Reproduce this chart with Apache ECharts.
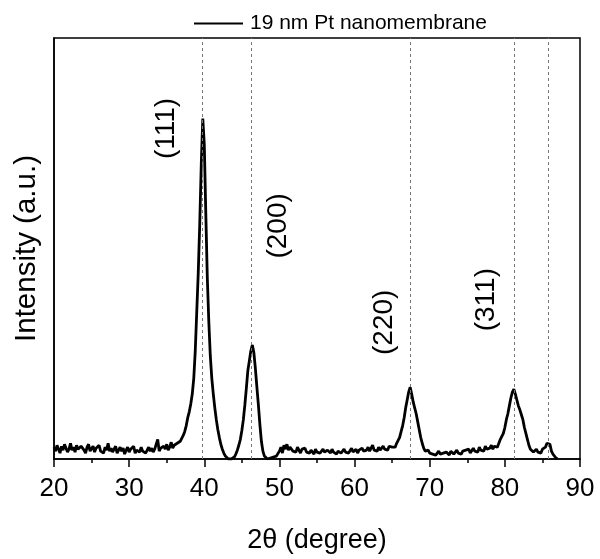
<!DOCTYPE html>
<html>
<head>
<meta charset="utf-8">
<script src="https://cdn.jsdelivr.net/npm/echarts@6/dist/echarts.min.js"></script>
<style>
html,body{margin:0;padding:0;background:#fff;}
#chart{width:600px;height:559px;}
</style>
</head>
<body>
<div id="chart"></div>
<script>
// Measurement grid (2θ, degrees)
const twoThetaStart = 20.0;
const twoThetaStep = 0.2;
// Intensity (a.u.), one value per 0.2° from 20.0 to 87.0
const intensity = [
  12, 8, 14, 10, 6, 13, 9, 15, 11, 7,
  10, 16, 9, 12, 7, 14, 10, 8, 13, 11,
  9, 6, 12, 15, 8, 10, 13, 7, 11, 9,
  14, 8, 10, 6, 12, 9, 16, 8, 11, 7,
  10, 13, 6, 9, 12, 8, 11, 5, 9, 12,
  7, 10, 8, 13, 6, 9, 11, 7, 12, 8,
  10, 6, 9, 12, 8, 11, 7, 10, 9, 20,
  8, 11, 9, 13, 10, 15, 9, 12, 17, 11,
  14, 12, 16, 15, 18, 20, 24, 28, 34, 42,
  48, 56, 66, 82, 110, 150, 190, 240, 300, 346,
  320, 250, 185, 140, 105, 82, 66, 52, 40, 30,
  22, 15, 10, 6, 3, 1, 0, 0, 0, 1,
  2, 5, 9, 14, 20, 29, 40, 55, 72, 90,
  100, 110, 116, 108, 92, 73, 55, 35, 18, 8,
  3, 1, 0, 0, 1, 0, 2, 1, 3, 5,
  8, 12, 6, 14, 10, 15, 9, 12, 11, 8,
  10, 7, 12, 9, 6, 10, 8, 11, 7, 9,
  6, 9, 8, 5, 10, 7, 9, 6, 8, 10,
  7, 5, 9, 8, 6, 10, 7, 9, 5, 8,
  9, 6, 8, 10, 7, 9, 6, 8, 11, 7,
  8, 10, 6, 9, 7, 11, 8, 6, 9, 12,
  8, 10, 14, 9, 11, 8, 12, 9, 10, 13,
  10, 12, 9, 13, 11, 12, 14, 12, 16, 18,
  22, 28, 34, 42, 52, 60, 68, 73, 66, 58,
  52, 46, 38, 30, 22, 16, 11, 8, 7, 9,
  6, 8, 5, 7, 4, 6, 8, 5, 7, 6,
  5, 7, 6, 4, 8, 6, 5, 7, 9, 6,
  7, 5, 8, 6, 9, 7, 10, 6, 8, 11,
  8, 10, 7, 12, 9, 11, 8, 13, 10, 12,
  11, 14, 10, 13, 15, 12, 16, 20, 18, 26,
  32, 40, 46, 54, 62, 68, 71, 66, 60, 54,
  50, 45, 40, 32, 26, 20, 14, 10, 9, 7,
  8, 10, 7, 9, 6, 10, 8, 12, 16, 18,
  15, 8, 5, 3, 1, 0
];
// Pt reference reflection positions (dashed lines)
const referenceLines = [39.76, 46.24, 67.45, 81.29, 85.71];
// Peak annotations
const peakLabels = ['(111)', '(200)', '(220)', '(311)'];
const peakLabelX = [34.9, 49.9, 64.0, 77.5];
const peakLabelY = [336, 237, 139, 162];
// Axis settings
const xMin = 20, xMax = 90, xInterval = 10;
const yMin = 0, yMax = 428;
const seriesName = '19 nm Pt nanomembrane';

const lineData = intensity.map((v, i) => [+(twoThetaStart + i * twoThetaStep).toFixed(2), v]);
const labelData = peakLabels.map((n, i) => ({ name: n, value: [peakLabelX[i], peakLabelY[i]] }));

const FONT = 'Liberation Sans, Arial, Helvetica, sans-serif';
const chart = echarts.init(document.getElementById('chart'), null, { renderer: 'canvas' });
chart.setOption({
  animation: false,
  backgroundColor: '#fff',
  grid: { left: 54, right: 20, top: 38, bottom: 93, show: true, borderColor: '#000', borderWidth: 1.5, backgroundColor: 'transparent' },
  legend: {
    data: [{ name: seriesName, icon: 'rect' }],
    left: 189, top: 8,
    itemWidth: 49, itemHeight: 2, itemGap: 10,
    textStyle: { fontFamily: FONT, fontSize: 21, color: '#000', padding: [0, 0, 0, 2] },
    itemStyle: { color: '#000' }
  },
  xAxis: {
    type: 'value', min: xMin, max: xMax, interval: xInterval,
    name: '2θ (degree)', nameLocation: 'middle', nameGap: 68,
    nameTextStyle: { fontFamily: FONT, fontSize: 27, color: '#000' },
    axisLine: { show: true, lineStyle: { color: '#000', width: 1.5 } },
    axisTick: { show: true, inside: false, length: 8, lineStyle: { color: '#000', width: 1.5 } },
    minorTick: { show: true, splitNumber: 2, length: 4, lineStyle: { color: '#000', width: 1.5 } },
    axisLabel: { fontFamily: FONT, fontSize: 26, color: '#000', margin: 17 },
    splitLine: { show: false }
  },
  yAxis: {
    type: 'value', min: yMin, max: yMax,
    name: 'Intensity (a.u.)', nameLocation: 'middle', nameGap: 12,
    nameTextStyle: { fontFamily: FONT, fontSize: 29.5, color: '#000' },
    axisLine: { show: true, lineStyle: { color: '#000', width: 1.5 } },
    axisTick: { show: false }, axisLabel: { show: false },
    splitLine: { show: false }
  },
  series: [
    {
      name: seriesName, type: 'line', data: lineData,
      symbol: 'none', showSymbol: false,
      lineStyle: { color: '#000', width: 2.8 },
      itemStyle: { color: '#000' },
      markLine: {
        silent: true, symbol: ['none', 'none'],
        label: { show: false },
        lineStyle: { type: [3, 3], color: '#777', width: 1 },
        data: referenceLines.map(v => ({ xAxis: v }))
      }
    },
    {
      name: 'labels', type: 'scatter', data: labelData,
      symbolSize: 0, silent: true,
      itemStyle: { color: '#000', opacity: 1 },
      label: {
        show: true, position: 'inside', rotate: 90,
        formatter: p => p.name,
        fontFamily: FONT, fontSize: 28, color: '#000',
        textBorderWidth: 0, textBorderColor: 'transparent', opacity: 1
      }
    }
  ]
});
</script>
</body>
</html>
